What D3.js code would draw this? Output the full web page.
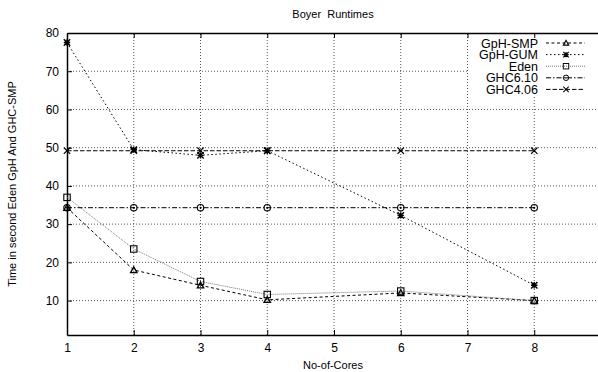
<!DOCTYPE html>
<head>
  <meta charset="utf-8">
  <style>
    body { margin: 0; background: #fff; }
    svg { display: block; font-family: "Liberation Sans", Arial, sans-serif; }
  </style>
  <script src="https://cdn.jsdelivr.net/npm/d3@7"></script>
</head>
<body>
<div id=chart></div>
<script>
// data
const cores = [1, 2, 3, 4, 6, 8]
const gph_smp = [34.3, 18, 14, 10.2, 12, 10]
const gph_gum = [77.5, 49.5, 48, 49.2, 32.3, 14]
const eden = [37, 23.5, 15, 11.6, 12.5, 10]
const ghc610 = [34.3, 34.3, 34.3, 34.3, 34.3, 34.3]
const ghc406 = [49.2, 49.2, 49.2, 49.2, 49.2, 49.2]
const x_ticks = [1, 2, 3, 4, 5, 6, 7, 8, 9]
const y_ticks = [10, 20, 30, 40, 50, 60, 70, 80]

const series = [
  { name: 'GpH-SMP', values: gph_smp, dash: '3,2.5', color: '#000', marker: 'triangle' },
  { name: 'GpH-GUM', values: gph_gum, dash: '1.5,2.5', color: '#000', marker: 'asterisk' },
  { name: 'Eden', values: eden, dash: '1,1', color: '#777', marker: 'square' },
  { name: 'GHC6.10', values: ghc610, dash: '5,2,1.5,2', color: '#000', marker: 'circle' },
  { name: 'GHC4.06', values: ghc406, dash: '4.5,2', color: '#000', marker: 'cross' },
]

const width = 598, height = 372
const margin = { left: 67, top: 33, right: -3, bottom: 37 }

const svg = d3.select('#chart').append('svg')
  .attr('width', width).attr('height', height)

const x = d3.scaleLinear([1, 9], [margin.left, width - margin.right])
const y = d3.scaleLinear([1, 80], [height - margin.bottom, margin.top])

// grid
const grid = svg.append('g').attr('stroke', '#555').attr('stroke-dasharray', '1,2').attr('stroke-width', 1)
grid.selectAll('.gx').data(x_ticks.slice(1, -1)).join('line')
  .attr('x1', d => x(d)).attr('x2', d => x(d))
  .attr('y1', y(1)).attr('y2', y(80))
grid.selectAll('.gy').data(y_ticks.slice(0, -1)).join('line')
  .attr('x1', x(1)).attr('x2', x(9))
  .attr('y1', d => y(d)).attr('y2', d => y(d))

// key area blanks the grid behind it
svg.append('rect').attr('x', 469).attr('y', y(80) + 1).attr('width', 127).attr('height', 61).attr('fill', '#fff')

// axes with inward ticks
const ax_bottom = svg.append('g').attr('transform', `translate(0,${y(1)})`)
  .call(d3.axisBottom(x).tickValues(x_ticks.slice(0, -1)).tickSizeInner(-5).tickSizeOuter(0).tickPadding(8))
const ax_top = svg.append('g').attr('transform', `translate(0,${y(80)})`)
  .call(d3.axisTop(x).tickValues(x_ticks.slice(0, -1)).tickSizeInner(-5).tickSizeOuter(0).tickFormat(''))
const ax_left = svg.append('g').attr('transform', `translate(${x(1)},0)`)
  .call(d3.axisLeft(y).tickValues(y_ticks).tickSizeInner(-5).tickSizeOuter(0).tickPadding(8))
for (const ax of [ax_bottom, ax_top, ax_left]) {
  ax.selectAll('.domain').attr('stroke-width', 1.5)
  ax.selectAll('text').attr('font-size', 12).attr('fill', '#000')
  ax.attr('font-family', null)
}

// lines
const line = d3.line().x((d, i) => x(cores[i])).y(d => y(d))
svg.append('g').selectAll('path').data(series).join('path')
  .attr('fill', 'none')
  .attr('stroke', d => d.color)
  .attr('stroke-width', 1)
  .attr('stroke-dasharray', d => d.dash)
  .attr('d', d => line(d.values))

// markers
const draw_marker = (g, kind) => {
  const s = 3.2
  if (kind === 'triangle') {
    g.append('path').attr('d', `M0,${-s}L${s},${s * 0.8}L${-s},${s * 0.8}Z`).attr('fill', 'none').attr('stroke', '#000').attr('stroke-width', 1.3)
  } else if (kind === 'asterisk') {
    g.append('path').attr('d', `M${-s},${-s}L${s},${s}M${-s},${s}L${s},${-s}M${-s},0L${s},0M0,${-s}L0,${s}`).attr('stroke', '#000').attr('stroke-width', 1.4)
  } else if (kind === 'square') {
    g.append('rect').attr('x', -s).attr('y', -s).attr('width', 2 * s).attr('height', 2 * s).attr('fill', 'none').attr('stroke', '#000').attr('stroke-width', 1.1)
  } else if (kind === 'circle') {
    g.append('circle').attr('r', s).attr('fill', 'none').attr('stroke', '#000').attr('stroke-width', 1.1)
    g.append('circle').attr('r', 1).attr('fill', '#000')
  } else if (kind === 'cross') {
    g.append('path').attr('d', `M${-s},${-s}L${s},${s}M${-s},${s}L${s},${-s}`).attr('stroke', '#000').attr('stroke-width', 1.2)
  }
}
for (const s of series) {
  s.values.forEach((v, i) => {
    const g = svg.append('g').attr('transform', `translate(${x(cores[i])},${y(v)})`)
    draw_marker(g, s.marker)
  })
}

// legend
const legend = svg.append('g').attr('transform', 'translate(538,43)')
series.forEach((s, i) => {
  const row = legend.append('g').attr('transform', `translate(0,${i * 11.6})`)
  row.append('text').attr('text-anchor', 'end').attr('dy', '0.36em').attr('font-size', 12.5).text(s.name)
  row.append('line').attr('x1', 8).attr('x2', 47).attr('y1', 0).attr('y2', 0)
    .attr('stroke', s.color).attr('stroke-dasharray', s.dash)
  draw_marker(row.append('g').attr('transform', 'translate(28,0) scale(0.85)'), s.marker)
})

// titles
svg.append('text').attr('x', 333).attr('y', 18).attr('text-anchor', 'middle').attr('font-size', 11).attr('xml:space', 'preserve').text('Boyer  Runtimes')
svg.append('text').attr('x', 333).attr('y', 369).attr('text-anchor', 'middle').attr('font-size', 11).text('No-of-Cores')
svg.append('text').attr('transform', 'translate(16,184) rotate(-90)').attr('text-anchor', 'middle').attr('font-size', 11).text('Time in second Eden GpH And GHC-SMP')
</script>
</body>
